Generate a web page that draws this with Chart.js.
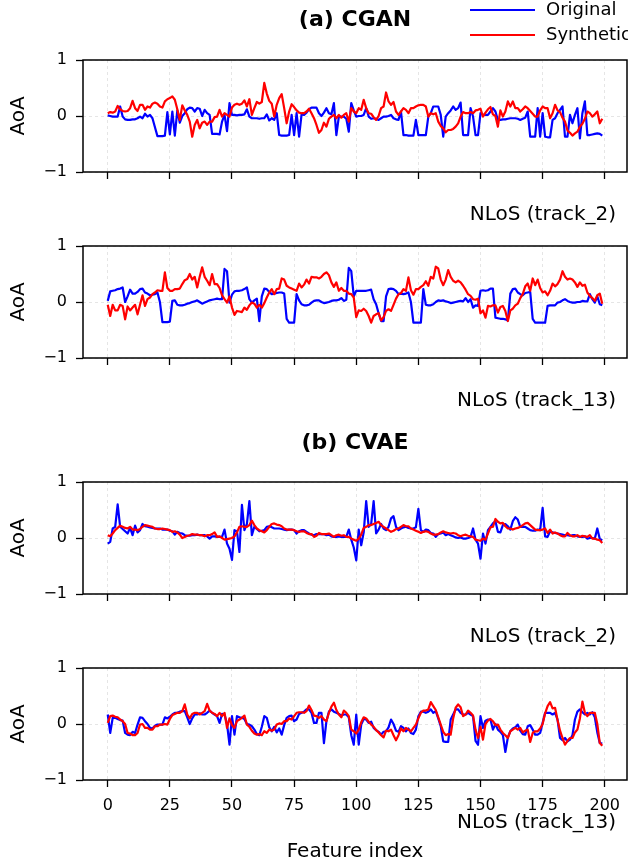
<!DOCTYPE html>
<html>
<head>
<meta charset="utf-8">
<script src="https://cdn.jsdelivr.net/npm/chart.js@4.4.1/dist/chart.umd.min.js"></script>
<style>
  html, body { margin: 0; padding: 0; background: #ffffff; width: 628px; height: 864px; overflow: hidden; }
  canvas.panel { position: absolute; left: 0; }
</style>
</head>
<body>
<canvas id="cganTrack2" class="panel"></canvas>
<canvas id="cganTrack13" class="panel"></canvas>
<canvas id="cvaeTrack2" class="panel"></canvas>
<canvas id="cvaeTrack13" class="panel"></canvas>
<script>
// Feature positions along the x axis and the tick values shown on each axis
const featureIndex = [...Array(200).keys()];
const xTicks = [0, 25, 50, 75, 100, 125, 150, 175, 200];
const yTicks = [-1, 0, 1];
const seriesNames = ['Original', 'Synthetic'];

// (a) CGAN, NLoS track_2
const cganTrack2Original = [
  0.01, 0.0, -0.01, -0.01, -0.01, 0.17, -0.01, -0.06, -0.07, -0.07,
  -0.06, -0.06, -0.04, -0.01, -0.04, 0.04, -0.01, 0.02, -0.04, -0.2,
  -0.36, -0.36, -0.36, -0.35, 0.07, -0.33, 0.08, -0.35, 0.10, -0.12,
  0.0, 0.05, 0.12, 0.15, 0.14, 0.08, 0.14, 0.13, 0.0, 0.11,
  0.05, 0.02, -0.32, -0.32, -0.32, -0.33, -0.1, 0.02, -0.27, 0.23,
  0.02, 0.02, 0.01, 0.02, 0.02, 0.03, 0.12, -0.01, -0.04, -0.04,
  -0.04, -0.05, -0.04, -0.04, 0.03, -0.08, -0.04, -0.07, 0.05, -0.34,
  -0.35, -0.35, -0.35, -0.34, 0.02, -0.34, 0.05, -0.37, 0.03, 0.02,
  0.06, 0.12, 0.15, 0.15, 0.15, 0.05, 0.0, 0.06, 0.14, 0.05,
  0.03, 0.23, -0.34, -0.01, -0.01, -0.01, -0.05, -0.28, 0.23, 0.1,
  -0.01, 0.0, 0.0, 0.02, 0.14, -0.01, -0.05, -0.04, -0.05, -0.07,
  -0.04, -0.01, -0.01, 0.0, 0.02, -0.04, -0.06, -0.07, 0.08, -0.34,
  -0.34, -0.35, -0.35, -0.35, -0.07, -0.34, -0.34, -0.34, -0.34, -0.01,
  0.05, 0.17, 0.17, 0.17, 0.02, -0.37, -0.01, 0.05, 0.1, 0.17,
  0.11, 0.14, 0.24, -0.34, -0.34, -0.34, 0.14, -0.01, -0.34, -0.34,
  0.05, 0.02, 0.02, 0.02, 0.08, 0.14, 0.08, -0.07, -0.07, -0.06,
  -0.06, -0.05, -0.04, -0.04, -0.04, -0.05, -0.07, -0.05, -0.03, 0.08,
  -0.37, -0.37, -0.37, 0.14, -0.37, 0.05, -0.37, -0.38, -0.38, -0.07,
  -0.04, 0.05, 0.11, 0.17, -0.37, -0.37, 0.02, -0.13, 0.02, 0.14,
  -0.4, 0.05, 0.26, -0.34, -0.34, -0.33, -0.32, -0.31, -0.32, -0.35
];
const cganTrack2Synthetic = [
  0.05, 0.07, 0.06, 0.08, 0.18, 0.12, 0.09, 0.08, 0.09, 0.14,
  0.27, 0.14, 0.09, 0.2, 0.2, 0.11, 0.17, 0.15, 0.22, 0.24,
  0.22, 0.17, 0.15, 0.26, 0.3, 0.32, 0.35, 0.29, 0.12, -0.07,
  0.19, 0.1, 0.02, -0.1, -0.37, -0.16, -0.07, -0.22, -0.12, -0.1,
  -0.16, -0.1, -0.1, -0.02, -0.01, 0.11, -0.01, 0.05, 0.02, -0.01,
  0.15, 0.2, 0.22, 0.2, 0.22, 0.28, 0.17, 0.3, 0.02, 0.14,
  0.25, 0.22, 0.25, 0.59, 0.4, 0.27, 0.22, -0.01, 0.2, 0.32,
  0.39, 0.14, -0.13, 0.08, 0.21, 0.16, 0.1, 0.06, 0.05, 0.05,
  0.08, 0.13, 0.05, -0.04, -0.16, -0.3, -0.25, -0.12, -0.19, -0.05,
  -0.01, 0.02, -0.04, 0.02, -0.03, 0.02, 0.05, -0.1, 0.14, 0.08,
  0.05, 0.14, 0.11, 0.29, 0.14, 0.05, 0.04, -0.02, -0.07, 0.0,
  0.14, 0.17, 0.42, 0.26, 0.2, 0.25, 0.08, 0.02, 0.08, 0.14,
  0.11, 0.05, 0.14, 0.14, 0.17, 0.19, 0.2, 0.2, 0.17, -0.01,
  0.05, 0.03, 0.05, -0.1, -0.18, -0.22, -0.29, -0.25, -0.25, -0.23,
  -0.19, -0.13, -0.01, 0.07, 0.05, 0.05, 0.07, 0.05, 0.1, 0.11,
  0.13, -0.01, 0.06, 0.12, 0.16, 0.03, 0.0, -0.19, 0.1, -0.01,
  0.08, 0.26, 0.17, 0.26, 0.14, 0.14, 0.08, 0.12, 0.17, 0.14,
  0.09, 0.04, -0.01, -0.01, 0.1, 0.17, 0.14, 0.14, -0.04, 0.05,
  0.2, 0.1, 0.07, -0.03, -0.1, -0.26, -0.3, -0.35, -0.31, -0.28,
  -0.19, -0.14, -0.05, 0.08, 0.05, -0.01, 0.03, 0.08, -0.13, -0.05
];

// (a) CGAN, NLoS track_13
const cganTrack13Original = [
  0.02, 0.19, 0.2, 0.21, 0.23, 0.24, 0.26, 0.0, 0.1, 0.22,
  0.15, 0.15, 0.18, 0.23, 0.24, 0.17, 0.15, 0.12, 0.13, 0.14,
  0.17, 0.0, -0.36, -0.36, -0.36, -0.35, 0.02, 0.03, -0.05, -0.06,
  -0.06, -0.05, -0.03, -0.02, 0.0, 0.01, 0.03, 0.0, -0.03, -0.01,
  0.01, 0.03, 0.04, 0.05, 0.06, 0.05, 0.05, 0.59, 0.55, -0.01,
  0.13, 0.19, 0.2, 0.2, 0.21, 0.23, 0.26, 0.05, -0.01, 0.03,
  0.06, -0.34, 0.1, 0.24, 0.23, 0.18, 0.14, 0.15, 0.16, 0.17,
  0.17, 0.15, -0.3, -0.37, -0.37, -0.37, 0.14, 0.03, -0.04, -0.06,
  -0.06, -0.05, -0.01, 0.02, 0.03, 0.03, 0.0, -0.02, -0.01, 0.0,
  0.02, 0.03, 0.03, 0.04, 0.07, 0.02, 0.04, 0.61, 0.55, 0.1,
  0.2, 0.2, 0.2, 0.2, 0.2, 0.21, 0.22, 0.05, -0.04, -0.2,
  -0.34, -0.34, 0.1, 0.23, 0.24, 0.23, 0.2, 0.14, 0.15, 0.14,
  0.15, 0.17, 0.0, -0.37, -0.37, -0.37, -0.37, 0.23, -0.05, -0.06,
  -0.06, -0.04, 0.0, 0.03, 0.02, 0.03, 0.01, 0.0, -0.02, -0.01,
  0.0, 0.01, 0.02, 0.01, 0.07, 0.0, 0.05, -0.1, -0.06, -0.07,
  0.2, 0.21, 0.2, 0.21, 0.24, 0.24, -0.28, -0.29, -0.3, -0.3,
  -0.31, -0.33, 0.15, 0.23, 0.24, 0.17, 0.14, 0.12, 0.16, 0.17,
  0.18, -0.3, -0.37, -0.37, -0.37, -0.37, -0.37, -0.07, -0.06, -0.06,
  -0.06, -0.01, 0.0, 0.03, 0.05, 0.02, 0.0, -0.01, -0.01, 0.0,
  0.0, 0.02, 0.01, 0.01, 0.14, 0.05, -0.01, 0.1, -0.04, -0.06
];
const cganTrack13Synthetic = [
  -0.05, -0.25, -0.05, -0.15, -0.15, -0.05, -0.07, -0.31, -0.08, -0.15,
  -0.1, -0.05, -0.22, -0.05, 0.12, -0.07, 0.05, 0.08, 0.14, 0.17,
  0.21, 0.2, 0.2, 0.53, 0.25, 0.2, 0.2, 0.23, 0.23, 0.24,
  0.32, 0.39, 0.41, 0.5, 0.4, 0.45, 0.26, 0.45, 0.62, 0.45,
  0.38, 0.3, 0.5, 0.32, 0.32, 0.25, 0.12, 0.05, -0.01, 0.1,
  -0.1, -0.23, -0.16, -0.17, -0.18, -0.1, -0.14, -0.06, -0.01, -0.03,
  -0.1, -0.05, -0.1, -0.02, 0.08, 0.17, 0.23, 0.14, 0.23, 0.24,
  0.42, 0.4, 0.29, 0.26, 0.24, 0.22, 0.2, 0.33, 0.26, 0.31,
  0.4, 0.33, 0.45, 0.44, 0.44, 0.42, 0.45, 0.5, 0.53, 0.48,
  0.35, 0.27, 0.35, 0.2, 0.25, 0.2, 0.2, 0.15, 0.14, 0.08,
  -0.27, -0.15, -0.16, -0.12, -0.16, -0.25, -0.37, -0.25, -0.22, -0.2,
  -0.33, -0.27, -0.16, -0.13, -0.16, -0.05, 0.06, 0.14, 0.16, 0.23,
  0.2, 0.44, 0.21, 0.13, 0.23, 0.23, 0.27, 0.3, 0.37, 0.29,
  0.45, 0.42, 0.63, 0.6, 0.4, 0.3, 0.4, 0.57, 0.45, 0.38,
  0.35, 0.38, 0.35, 0.29, 0.22, 0.14, 0.11, 0.05, 0.04, 0.06,
  -0.2, -0.15, -0.28, -0.07, -0.08, -0.06, -0.06, -0.19, -0.09, -0.07,
  -0.16, -0.34, -0.15, -0.12, -0.06, -0.03, 0.07, 0.14, 0.28, 0.33,
  0.2, 0.42, 0.3, 0.4, 0.25, 0.17, 0.19, 0.12, 0.2, 0.33,
  0.28, 0.32, 0.4, 0.55, 0.45, 0.4, 0.42, 0.4, 0.35, 0.27,
  0.35, 0.29, 0.31, 0.17, 0.11, 0.07, 0.02, 0.12, 0.15, -0.03
];

// (b) CVAE, NLoS track_2
const cvaeTrack2Original = [
  -0.1, -0.07, 0.17, 0.2, 0.6, 0.2, 0.16, 0.12, 0.08, 0.18,
  0.05, 0.22, 0.1, 0.14, 0.25, 0.21, 0.2, 0.19, 0.18, 0.17,
  0.17, 0.17, 0.15, 0.15, 0.15, 0.13, 0.12, 0.06, 0.11, 0.09,
  0.08, 0.05, 0.04, 0.04, 0.05, 0.05, 0.06, 0.05, 0.05, 0.05,
  0.03, -0.01, 0.03, 0.03, 0.02, 0.02, 0.02, 0.15, -0.1, -0.19,
  -0.39, 0.14, 0.12, -0.25, 0.59, 0.14, 0.25, 0.66, 0.05, 0.2,
  0.16, 0.12, 0.13, 0.14, 0.2, 0.21, 0.19, 0.17, 0.17, 0.17,
  0.16, 0.15, 0.14, 0.15, 0.15, 0.14, 0.08, 0.12, 0.14, 0.14,
  0.11, 0.08, 0.06, 0.05, 0.07, 0.07, 0.07, 0.07, 0.05, 0.06,
  0.03, 0.02, 0.02, 0.03, 0.02, 0.02, 0.02, 0.15, -0.03, -0.17,
  -0.4, 0.15, -0.13, 0.1, 0.66, 0.2, 0.25, 0.66, 0.08, 0.15,
  0.25, 0.17, 0.14, 0.2, 0.35, 0.39, 0.2, 0.14, 0.17, 0.19,
  0.2, 0.18, 0.17, 0.17, 0.19, 0.52, 0.14, 0.11, 0.15, 0.14,
  0.09, 0.08, 0.02, 0.07, 0.08, 0.1, 0.05, 0.07, 0.05, 0.03,
  0.01, 0.0, 0.01, -0.01, -0.01, 0.0, 0.02, 0.17, -0.03, -0.1,
  -0.37, 0.08, -0.1, 0.14, 0.2, 0.26, 0.3, 0.11, 0.1, 0.23,
  0.25, 0.21, 0.15, 0.3, 0.37, 0.33, 0.2, 0.2, 0.2, 0.17,
  0.14, 0.13, 0.13, 0.15, 0.14, 0.54, 0.03, 0.02, 0.12, 0.1,
  0.09, 0.08, 0.07, 0.06, 0.05, 0.05, 0.04, 0.05, 0.05, 0.03,
  0.02, 0.02, 0.03, -0.01, 0.0, 0.0, -0.01, 0.17, -0.02, -0.04
];
const cvaeTrack2Synthetic = [
  0.05, 0.03, 0.08, 0.14, 0.18, 0.22, 0.2, 0.18, 0.17, 0.2,
  0.15, 0.15, 0.14, 0.16, 0.2, 0.23, 0.22, 0.21, 0.2, 0.17,
  0.16, 0.16, 0.17, 0.16, 0.15, 0.14, 0.11, 0.12, 0.1, 0.06,
  0.0, 0.02, 0.04, 0.05, 0.07, 0.06, 0.06, 0.05, 0.05, 0.03,
  0.05, 0.05, 0.07, 0.1, 0.02, 0.03, 0.0, -0.03, -0.02, -0.01,
  0.0, 0.03, 0.1, 0.2, 0.21, 0.2, 0.2, 0.23, 0.31, 0.23,
  0.17, 0.14, 0.12, 0.1, 0.14, 0.2, 0.25, 0.26, 0.24, 0.23,
  0.21, 0.17, 0.15, 0.15, 0.15, 0.14, 0.12, 0.11, 0.12, 0.12,
  0.09, 0.07, 0.07, 0.02, 0.04, 0.09, 0.07, 0.07, 0.07, 0.08,
  0.05, 0.02, 0.05, 0.06, 0.04, 0.05, 0.02, 0.02, -0.01, -0.03,
  -0.05, -0.01, 0.06, 0.18, 0.2, 0.23, 0.23, 0.25, 0.27, 0.29,
  0.23, 0.2, 0.17, 0.14, 0.11, 0.13, 0.16, 0.17, 0.2, 0.23,
  0.21, 0.21, 0.17, 0.15, 0.13, 0.11, 0.09, 0.11, 0.12, 0.11,
  0.08, 0.06, 0.06, 0.07, 0.1, 0.12, 0.1, 0.09, 0.08, 0.09,
  0.08, 0.05, 0.03, 0.05, 0.06, 0.04, 0.03, 0.02, -0.03, -0.04,
  -0.05, -0.01, -0.03, 0.08, 0.19, 0.2, 0.34, 0.29, 0.26, 0.27,
  0.21, 0.17, 0.17, 0.15, 0.17, 0.18, 0.2, 0.23, 0.26, 0.27,
  0.23, 0.19, 0.15, 0.14, 0.14, 0.15, 0.17, 0.09, 0.15, 0.08,
  0.1, 0.08, 0.05, 0.03, 0.03, 0.09, 0.05, 0.03, 0.03, 0.05,
  0.02, 0.04, 0.03, 0.02, 0.05, -0.01, -0.01, -0.03, -0.04, -0.09
];

// (b) CVAE, NLoS track_13
const cvaeTrack13Original = [
  0.17, -0.16, 0.11, 0.11, 0.09, 0.07, 0.06, -0.16, -0.19, -0.2,
  -0.14, -0.16, -0.01, 0.12, 0.11, 0.05, 0.0, -0.07, -0.08, -0.03,
  -0.01, -0.01, -0.01, 0.12, 0.1, 0.13, 0.17, 0.2, 0.2, 0.22,
  0.23, 0.23, 0.12, 0.0, 0.1, 0.17, 0.17, 0.19, 0.17, 0.17,
  0.2, 0.24, 0.2, 0.17, 0.14, 0.02, 0.18, 0.17, 0.0, -0.37,
  0.14, -0.19, 0.14, 0.12, 0.11, 0.09, 0.0, -0.01, -0.04, -0.1,
  -0.18, -0.2, -0.05, 0.14, 0.11, -0.06, -0.13, -0.05, -0.15, -0.08,
  -0.19, -0.02, 0.11, 0.14, 0.15, 0.05, 0.08, 0.18, 0.2, 0.22,
  0.26, 0.26, 0.2, 0.02, 0.02, 0.2, 0.2, -0.34, 0.05, 0.22,
  0.26, 0.22, 0.2, 0.18, 0.15, 0.17, 0.17, 0.12, -0.2, -0.37,
  0.17, -0.37, -0.01, 0.09, 0.08, 0.02, 0.04, -0.07, -0.11, -0.14,
  -0.19, -0.14, -0.13, -0.06, 0.08, 0.0, -0.12, -0.14, -0.04, -0.07,
  -0.13, -0.08, -0.16, -0.18, -0.1, 0.14, 0.22, 0.22, 0.2, 0.22,
  0.26, 0.2, 0.23, 0.1, -0.04, -0.31, -0.32, -0.32, 0.08, 0.17,
  0.26, 0.26, 0.2, 0.17, 0.17, 0.2, 0.17, 0.14, -0.3, -0.37,
  0.14, -0.07, 0.06, 0.08, 0.08, -0.1, 0.0, -0.1, -0.14, -0.2,
  -0.5, -0.24, -0.13, -0.08, -0.06, -0.01, -0.12, -0.18, -0.19, -0.04,
  -0.02, -0.1, -0.19, -0.19, -0.16, 0.02, 0.2, 0.2, 0.2, 0.17,
  0.2, 0.08, -0.25, -0.29, -0.25, -0.31, -0.28, -0.2, 0.08, 0.22,
  0.26, 0.21, 0.17, 0.2, 0.17, 0.21, 0.12, -0.15, -0.34, -0.35
];
const cvaeTrack13Synthetic = [
  0.02, 0.14, 0.15, 0.13, 0.12, 0.08, 0.05, 0.0, -0.16, -0.17,
  -0.2, -0.2, -0.16, -0.01, 0.0, -0.07, -0.07, -0.1, -0.1, -0.04,
  -0.04, -0.01, -0.01, 0.0, -0.01, 0.09, 0.16, 0.18, 0.2, 0.2,
  0.23, 0.35, 0.17, 0.1, 0.18, 0.2, 0.2, 0.17, 0.2, 0.23,
  0.36, 0.24, 0.2, 0.18, 0.14, 0.2, 0.14, 0.2, -0.07, 0.1,
  -0.02, -0.07, 0.05, 0.08, 0.11, 0.15, -0.01, -0.05, -0.12, -0.17,
  -0.19, -0.18, -0.2, -0.13, -0.16, -0.1, -0.12, -0.1, -0.01, 0.01,
  0.0, 0.05, 0.05, 0.1, 0.08, 0.14, 0.2, 0.21, 0.21, 0.2,
  0.23, 0.33, 0.25, 0.15, 0.14, 0.11, 0.14, 0.08, 0.05, 0.2,
  0.31, 0.38, 0.25, 0.17, 0.12, 0.24, 0.2, 0.14, -0.1, -0.13,
  -0.17, -0.1, 0.03, 0.12, 0.1, 0.04, -0.01, -0.05, -0.11, -0.15,
  -0.2, -0.24, -0.12, -0.13, -0.1, -0.2, -0.29, -0.2, -0.08, -0.13,
  -0.07, -0.1, -0.13, -0.07, -0.01, 0.1, 0.2, 0.24, 0.24, 0.26,
  0.39, 0.32, 0.25, 0.12, -0.01, -0.14, -0.2, -0.18, -0.19, 0.1,
  0.29, 0.35, 0.3, 0.14, 0.17, 0.24, 0.2, 0.15, -0.1, -0.25,
  -0.05, -0.28, 0.0, 0.06, 0.09, 0.05, -0.02, -0.01, -0.1, -0.16,
  -0.2, -0.25, -0.13, -0.1, -0.07, -0.1, -0.07, -0.15, -0.12, -0.1,
  -0.32, -0.16, -0.13, -0.13, -0.08, 0.0, 0.19, 0.32, 0.39, 0.28,
  0.29, 0.07, -0.12, -0.25, -0.37, -0.3, -0.25, -0.25, -0.15, -0.1,
  0.1, 0.4, 0.2, 0.14, 0.2, 0.2, 0.2, 0.0, -0.34, -0.39
];

// ---- drawing ----
const FONT = 'DejaVu Sans';
const X_MIN = -9.95, X_MAX = 208.95;
const AXES_LEFT = 83, CANVAS_W = 640, AXES_RIGHT = 627;
const PLOT_H = 112;
const LABEL_SIZE = 20;

const fmtTick = v => (v < 0 ? '\u2212' + Math.abs(v) : String(v));

// full box round each axes, drawn over the lines
const axesFrame = {
  id: 'axesFrame',
  afterDatasetsDraw(chart) {
    const { ctx, chartArea: a } = chart;
    ctx.save();
    ctx.strokeStyle = '#000';
    ctx.lineWidth = 1.5;
    ctx.strokeRect(a.left, a.top, a.right - a.left, a.bottom - a.top);
    ctx.restore();
  }
};

// bold group heading centred over the axes, and the right-aligned track caption below them
const panelText = {
  id: 'panelText',
  afterDraw(chart, args, o) {
    const { ctx, chartArea: a } = chart;
    ctx.save();
    ctx.fillStyle = '#000';
    ctx.textBaseline = 'middle';
    if (o.heading) {
      ctx.font = `bold 22px "${FONT}"`;
      ctx.textAlign = 'center';
      ctx.fillText(o.heading, (a.left + a.right) / 2, o.headingY);
    }
    if (o.track) {
      ctx.font = `${LABEL_SIZE}px "${FONT}"`;
      ctx.textAlign = 'right';
      ctx.fillText(o.track, 616, a.bottom + 43);
    }
    ctx.restore();
  }
};

// two-row legend in the upper right corner of the figure
const cornerLegend = {
  id: 'cornerLegend',
  afterDraw(chart, args, o) {
    if (!o.show) return;
    const ctx = chart.ctx;
    ctx.save();
    ctx.font = `18px "${FONT}"`;
    ctx.textBaseline = 'middle';
    ctx.textAlign = 'left';
    chart.data.datasets.forEach((ds, i) => {
      const y = o.y + i * o.rowGap;
      ctx.strokeStyle = ds.borderColor;
      ctx.lineWidth = ds.borderWidth;
      ctx.beginPath();
      ctx.moveTo(o.x, y);
      ctx.lineTo(o.x + o.lineLength, y);
      ctx.stroke();
      ctx.fillStyle = '#000';
      ctx.fillText(ds.label, o.x + o.lineLength + o.gap, y);
    });
    ctx.restore();
  }
};

// axesTop: page y of the top of the axes box; canvasTop leaves room above it
function makePanel(id, cfg) {
  const canvas = document.getElementById(id);
  const plotTop = cfg.axesTop - cfg.canvasTop;
  canvas.style.top = cfg.canvasTop + 'px';
  canvas.width = CANVAS_W;
  canvas.height = cfg.canvasBottom - cfg.canvasTop;
  const xHeight = canvas.height - plotTop - PLOT_H;

  const toPoints = arr => featureIndex.map((x, i) => ({ x, y: arr[i] }));

  return new Chart(canvas, {
    type: 'line',
    data: {
      datasets: [
        { label: seriesNames[0], data: toPoints(cfg.original), borderColor: '#0000ff', borderWidth: 2.2,
          pointRadius: 0, tension: 0, borderJoinStyle: 'round', order: 2 },
        { label: seriesNames[1], data: toPoints(cfg.synthetic), borderColor: '#ff0000', borderWidth: 2.2,
          pointRadius: 0, tension: 0, borderJoinStyle: 'round', order: 1 }
      ]
    },
    options: {
      responsive: false,
      animation: false,
      devicePixelRatio: 1,
      events: [],
      layout: { padding: { top: plotTop, left: 0, right: CANVAS_W - AXES_RIGHT, bottom: 0 } },
      plugins: {
        legend: { display: false },
        tooltip: { enabled: false },
        title: { display: false },
        panelText: { heading: cfg.heading, headingY: cfg.headingY - cfg.canvasTop, track: cfg.track },
        cornerLegend: { show: !!cfg.legend, x: 470, y: 10 - cfg.canvasTop, rowGap: 25, lineLength: 65, gap: 11 }
      },
      scales: {
        x: {
          type: 'linear',
          min: X_MIN,
          max: X_MAX,
          afterBuildTicks: s => { s.ticks = xTicks.map(v => ({ value: v })); },
          afterFit: s => { s.height = xHeight; },
          ticks: { display: !!cfg.xLabels, color: '#000', padding: 9, font: { family: FONT, size: 16 }, maxRotation: 0, autoSkip: false },
          grid: { color: 'rgba(0,0,0,0.13)', lineWidth: 0.8, tickLength: 7, tickColor: '#000', tickWidth: 1.3, drawTicks: true },
          border: { display: false, dash: [3, 3] },
          title: cfg.xLabels ? {
            display: true, text: 'Feature index', color: '#000',
            font: { family: FONT, size: LABEL_SIZE }, padding: { top: 0, bottom: 0 }
          } : { display: false }
        },
        y: {
          min: -1,
          max: 1,
          afterBuildTicks: s => { s.ticks = yTicks.map(v => ({ value: v })); },
          afterFit: s => { s.width = AXES_LEFT; },
          ticks: { color: '#000', padding: 9, font: { family: FONT, size: 16 }, callback: fmtTick },
          grid: { color: 'rgba(0,0,0,0.13)', lineWidth: 0.8, tickLength: 7, tickColor: '#000', tickWidth: 1.3 },
          border: { display: false, dash: [3, 3] },
          title: { display: true, text: 'AoA', color: '#000', font: { family: FONT, size: LABEL_SIZE }, padding: { top: 7, bottom: 0 } }
        }
      }
    },
    plugins: [axesFrame, panelText, cornerLegend]
  });
}

makePanel('cganTrack2', { canvasTop: 0, axesTop: 60, canvasBottom: 232, heading: '(a) CGAN', headingY: 20,
  original: cganTrack2Original, synthetic: cganTrack2Synthetic, track: 'NLoS (track_2)', legend: true });
makePanel('cganTrack13', { canvasTop: 222, axesTop: 246, canvasBottom: 418,
  original: cganTrack13Original, synthetic: cganTrack13Synthetic, track: 'NLoS (track_13)' });
makePanel('cvaeTrack2', { canvasTop: 420, axesTop: 482, canvasBottom: 654, heading: '(b) CVAE', headingY: 443,
  original: cvaeTrack2Original, synthetic: cvaeTrack2Synthetic, track: 'NLoS (track_2)' });
makePanel('cvaeTrack13', { canvasTop: 644, axesTop: 668, canvasBottom: 864,
  original: cvaeTrack13Original, synthetic: cvaeTrack13Synthetic, track: 'NLoS (track_13)', xLabels: true });
</script>
</body>
</html>
